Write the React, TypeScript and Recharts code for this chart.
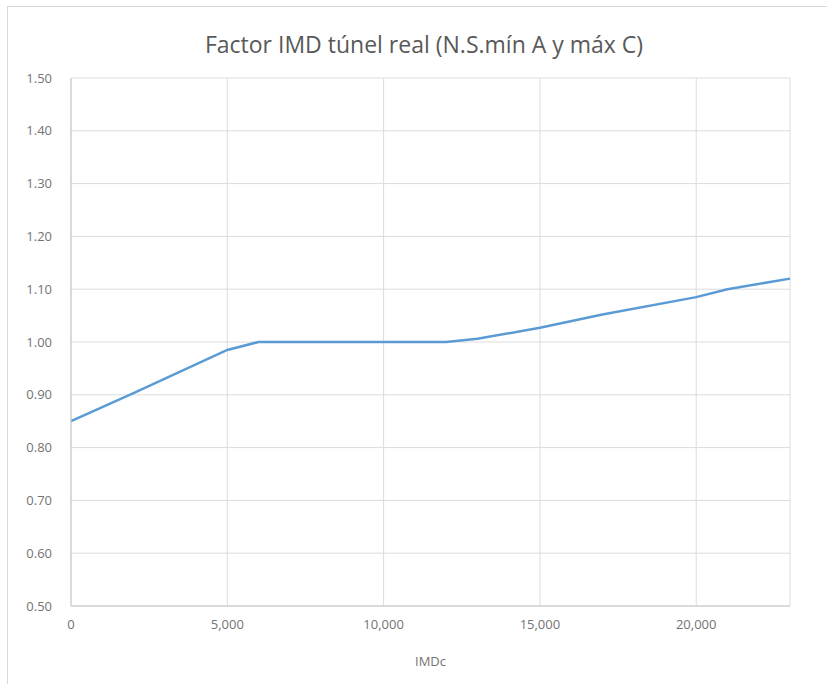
import { LineChart, Line, XAxis, YAxis, CartesianGrid } from 'recharts';

const imdc = [0, 2000, 5000, 6000, 9000, 12000, 13000, 15000, 17000, 20000, 21000, 23000];
const factor = [0.85, 0.903, 0.985, 1.0, 1.0, 1.0, 1.006, 1.027, 1.052, 1.085, 1.1, 1.12];
const xTicks = [0, 5000, 10000, 15000, 20000];
const yTicks = [0.5, 0.6, 0.7, 0.8, 0.9, 1.0, 1.1, 1.2, 1.3, 1.4, 1.5];

const data = imdc.map((x, i) => ({ x, y: factor[i] }));

const FONT = '"Open Sans", "Noto Sans", sans-serif';
const tickStyle = { fill: '#737373', fontSize: 13, fontFamily: FONT };

export default function App() {
  return (
    <div style={{ position: 'absolute', left: 0, top: 0, width: 827, height: 684, background: '#fff' }}>
      <div
        style={{
          position: 'absolute',
          left: 7,
          top: 6,
          width: 830,
          height: 690,
          borderLeft: '1px solid #d9d9d9',
          borderTop: '1px solid #d9d9d9',
        }}
      />
      <div
        style={{
          position: 'absolute',
          left: 0,
          top: 28,
          width: 848,
          textAlign: 'center',
          fontFamily: FONT,
          fontSize: 23,
          color: '#595959',
        }}
      >
        Factor IMD túnel real (N.S.mín A y máx C)
      </div>
      <div style={{ position: 'absolute', left: 0, top: 0 }}>
        <LineChart width={827} height={684} data={data} margin={{ top: 78, right: 37, left: 0, bottom: 48 }}>
          <CartesianGrid stroke="#dcdcdc" />
          <XAxis
            dataKey="x"
            type="number"
            domain={[0, 23000]}
            ticks={xTicks}
            tickFormatter={(v: number) => v.toLocaleString('en-US')}
            tick={tickStyle}
            tickLine={false}
            axisLine={{ stroke: '#c8c8c8' }}
            height={30}
            tickMargin={8}
            label={{ value: 'IMDc', position: 'insideBottom', offset: -30, fill: '#737373', fontSize: 13, fontFamily: FONT }}
          />
          <YAxis
            type="number"
            domain={[0.5, 1.5]}
            ticks={yTicks}
            tickFormatter={(v: number) => v.toFixed(2)}
            tick={tickStyle}
            tickLine={false}
            axisLine={{ stroke: '#c8c8c8' }}
            width={71}
            tickMargin={13}
          />
          <Line
            dataKey="y"
            type="linear"
            stroke="#5b9bd5"
            strokeWidth={2.5}
            dot={false}
            isAnimationActive={false}
          />
        </LineChart>
      </div>
    </div>
  );
}
